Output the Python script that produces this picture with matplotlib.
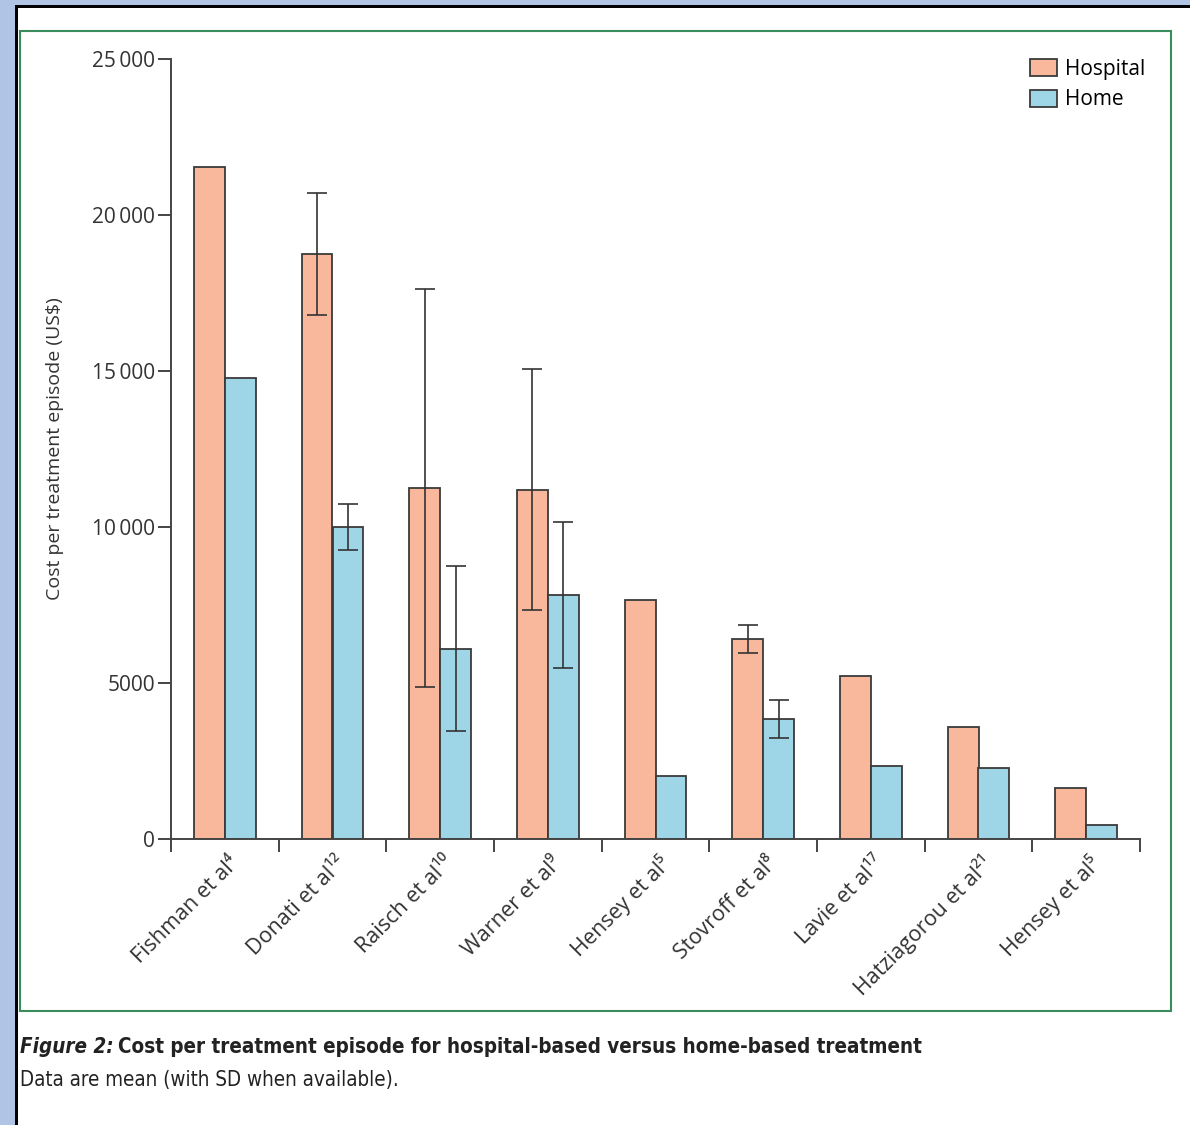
import matplotlib
matplotlib.use("Agg")
import matplotlib.pyplot as plt
from matplotlib.patches import Rectangle
from matplotlib.transforms import ScaledTranslation
import numpy as np

# Стоимость одного эпизода лечения (US$), среднее и SD
studies = ['Fishman et al⁴', 'Donati et al¹²', 'Raisch et al¹⁰', 'Warner et al⁹',
           'Hensey et al⁵', 'Stovroff et al⁸', 'Lavie et al¹⁷',
           'Hatziagorou et al²¹', 'Hensey et al⁵']
hospital = [21550, 18750, 11250, 11200, 7650, 6400, 5220, 3590, 1640]
home = [14770, 10000, 6100, 7830, 2020, 3860, 2340, 2280, 450]
hospital_sd = [np.nan, 1950, 6380, 3860, np.nan, 450, np.nan, np.nan, np.nan]
home_sd = [np.nan, 750, 2650, 2340, np.nan, 610, np.nan, np.nan, np.nan]
yticks = [0, 5000, 10000, 15000, 20000, 25000]
ytick_labels = ['0', '5000', '10\u2009000', '15\u2009000', '20\u2009000', '25\u2009000']

FONT = ['Open Sans', 'DejaVu Sans']
CAP_FONT = ['Liberation Sans Narrow', 'DejaVu Sans']
plt.rcParams['font.family'] = FONT

W, H = 1190, 1125
fig = plt.figure(figsize=(W / 100, H / 100), dpi=100)
fig.patch.set_facecolor('#b0c4e6')

def px_rect(x0, y0, x1, y1, **kw):
    # прямоугольник в пикселях (от верхнего левого угла)
    r = Rectangle((x0 / W, 1 - y1 / H), (x1 - x0) / W, (y1 - y0) / H,
                  transform=fig.transFigure, **kw)
    fig.patches.append(r)

px_rect(15, 5, W + 5, H + 5, facecolor='black', edgecolor='none', zorder=-3)
px_rect(18, 8, W + 5, H + 5, facecolor='white', edgecolor='none', zorder=-2)
px_rect(20, 31, 1171, 1011, facecolor='none', edgecolor='#3a8c5c', lw=1.5, zorder=-1)

ax = fig.add_axes([171 / W, 1 - 839 / H, (1140 - 171) / W, (839 - 59) / H])
ax.set_facecolor('none')

x = np.arange(len(studies)) + 0.5
w = 0.285
edge = '#3a3a3a'
ax.bar(x - w / 2, hospital, w, color='#f9b89c', edgecolor=edge, lw=1.3,
       label='Hospital', zorder=2)
ax.bar(x + w / 2, home, w, color='#9fd6e7', edgecolor=edge, lw=1.3,
       label='Home', zorder=2)

ax.errorbar(x - w / 2, hospital, yerr=hospital_sd, fmt='none', ecolor='#333333',
            elinewidth=1.2, capsize=7, capthick=1.2, zorder=3)
ax.errorbar(x + w / 2, home, yerr=home_sd, fmt='none', ecolor='#333333',
            elinewidth=1.2, capsize=7, capthick=1.2, zorder=3)

ax.set_xlim(0, len(studies))
ax.set_ylim(0, 25000)
ax.set_yticks(yticks)
ax.set_yticklabels(ytick_labels, fontsize=15, color='#333333')
ax.set_xticks(np.arange(len(studies) + 1))
ax.set_xticklabels([])
ax.tick_params(axis='y', direction='out', length=9.5, width=1.4, color='#444444', pad=2)
ax.tick_params(axis='x', direction='out', length=9, width=1.4, color='#444444')

# подписи исследований под центрами групп, повернутые на 45°
shift = ax.get_xaxis_transform() + ScaledTranslation(11 / 100, -21 / 100,
                                                     fig.dpi_scale_trans)
for xi, name in zip(x, studies):
    ax.text(xi, 0, name, transform=shift, rotation=45, ha='right', va='center',
            rotation_mode='anchor', fontsize=15.5, color='#333333')

for s in ['top', 'right']:
    ax.spines[s].set_visible(False)
for s in ['left', 'bottom']:
    ax.spines[s].set_color('#444444')
    ax.spines[s].set_linewidth(1.4)

ax.set_ylabel('Cost per treatment episode (US$)', fontsize=14, color='#333333',
              labelpad=20)

ax.legend(loc='upper left', bbox_to_anchor=(0.867, 1.024), frameon=False,
          fontsize=15, handlelength=1.3, handleheight=0.9, handletextpad=0.4,
          labelspacing=0.45)

# Подпись рисунка
y1 = 1 - 1047 / H
t1 = fig.text(20 / W, y1, 'Figure 2:', fontsize=14.8, fontweight='bold',
              fontstyle='italic', fontstretch='condensed', family=CAP_FONT,
              va='center', color='#222222')
fig.canvas.draw()
bb = t1.get_window_extent(fig.canvas.get_renderer())
fig.text(bb.x1 / W + 4 / W, y1,
         'Cost per treatment episode for hospital-based versus home-based treatment',
         fontsize=14.8, fontweight='bold', fontstretch='condensed', family=CAP_FONT,
         va='center', color='#222222')
fig.text(20 / W, 1 - 1080 / H, 'Data are mean (with SD when available).',
         fontsize=14.8, fontstretch='condensed', family=CAP_FONT, va='center',
         color='#222222')

fig.savefig('out.png', dpi=100)
